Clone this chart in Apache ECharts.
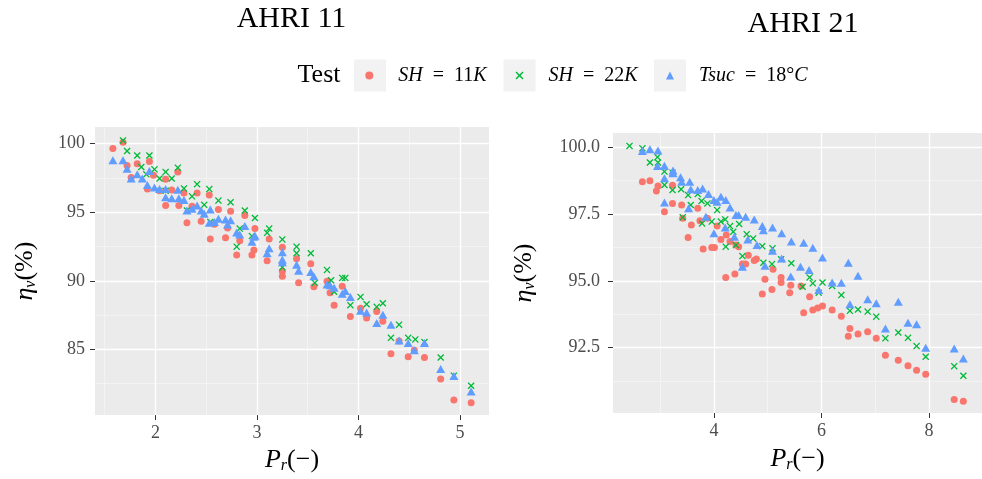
<!DOCTYPE html>
<html>
<head>
<meta charset="utf-8">
<script src="https://cdn.jsdelivr.net/npm/echarts@6/dist/echarts.min.js"></script>
<style>
html,body{margin:0;padding:0;background:#fff;}
#c{width:982px;height:479px;}
</style>
</head>
<body>
<div id="c"></div>
<script>
// ---------- data ----------
const panelTitles = ['AHRI 11', 'AHRI 21'];
const seriesNames = ['SH11', 'SH22', 'Tsuc18'];
const legendTitle = 'Test';

const ahri11Sh11 = [[1.58,99.66],[1.68,100.1],[1.72,98.42],[1.76,97.53],[1.82,98.54],[1.94,98.70],[1.92,96.69],[1.98,97.70],[2.04,96.57],[2.10,97.41],[2.10,95.49],[2.16,96.62],[2.22,97.94],[2.23,95.49],[2.28,96.40],[2.31,94.24],[2.36,95.44],[2.41,96.40],[2.45,94.34],[2.53,96.26],[2.54,93.04],[2.58,94.12],[2.62,95.20],[2.69,93.14],[2.71,93.86],[2.74,95.08],[2.80,91.89],[2.83,92.92],[2.88,94.77],[2.95,91.89],[2.97,92.25],[2.98,93.81],[3.10,91.46],[3.12,93.04],[3.25,92.44],[3.25,90.69],[3.25,90.33],[3.39,91.60],[3.41,89.85],[3.53,91.24],[3.56,89.56],[3.69,89.97],[3.72,89.13],[3.76,88.22],[3.84,89.61],[3.92,87.40],[4.02,88.00],[4.08,87.28],[4.18,87.76],[4.24,87.04],[4.32,84.67],[4.40,85.60],[4.49,84.45],[4.55,84.93],[4.65,84.40],[4.81,82.84],[4.94,81.31],[5.11,81.11]];
const ahri11Sh22 = [[1.68,100.24],[1.72,99.47],[1.82,99.14],[1.86,98.30],[1.94,99.14],[1.99,98.13],[1.91,97.77],[2.04,97.46],[2.10,97.94],[2.16,97.46],[2.22,98.25],[2.10,96.57],[2.28,96.74],[2.31,95.13],[2.36,96.16],[2.41,97.05],[2.48,95.54],[2.53,96.69],[2.54,94.29],[2.62,95.85],[2.74,95.73],[2.80,92.49],[2.83,93.81],[2.88,95.13],[2.95,93.26],[2.98,94.58],[3.10,93.50],[3.12,93.81],[3.25,93.02],[3.25,90.98],[3.39,92.49],[3.39,92.01],[3.53,92.01],[3.57,89.85],[3.69,90.79],[3.73,90.04],[3.76,89.20],[3.84,90.21],[3.87,90.21],[3.92,88.22],[4.02,88.82],[4.08,88.29],[4.18,88.10],[4.24,88.36],[4.32,85.84],[4.40,86.80],[4.49,85.84],[4.56,85.72],[4.65,85.53],[4.81,84.40],[4.94,83.08],[5.11,82.34]];
const ahri11Tsuc = [[1.58,98.80],[1.68,98.80],[1.72,98.18],[1.76,97.46],[1.82,97.77],[1.87,97.46],[1.92,96.98],[1.94,98.01],[1.99,96.81],[2.04,96.69],[2.10,96.69],[2.10,96.09],[2.16,96.02],[2.22,96.64],[2.23,96.02],[2.28,95.90],[2.31,95.13],[2.36,95.25],[2.41,95.49],[2.45,95.13],[2.48,94.89],[2.53,94.24],[2.54,95.20],[2.58,94.29],[2.62,94.53],[2.69,94.48],[2.71,94.10],[2.74,94.41],[2.80,93.52],[2.83,93.38],[2.88,94.00],[2.95,92.85],[2.97,93.21],[2.98,93.28],[3.10,92.01],[3.12,92.37],[3.25,92.08],[3.25,91.53],[3.25,91.36],[3.39,91.17],[3.41,90.74],[3.53,90.64],[3.56,90.33],[3.69,89.73],[3.72,89.68],[3.76,89.49],[3.84,89.06],[3.87,89.25],[3.92,88.82],[4.02,87.81],[4.08,87.69],[4.18,86.92],[4.24,87.52],[4.32,86.80],[4.40,85.65],[4.49,85.46],[4.55,84.93],[4.65,85.46],[4.81,83.56],[4.94,83.06],[5.11,81.93]];

const ahri21Sh11 = [[2.67,98.71],[2.81,98.75],[2.93,98.36],[2.96,98.55],[3.08,97.59],[3.23,97.90],[3.23,98.58],[3.40,97.84],[3.42,97.34],[3.52,96.62],[3.58,97.09],[3.70,97.72],[3.74,97.25],[3.80,96.19],[3.88,97.34],[3.96,96.25],[4.01,96.25],[4.06,97.05],[4.13,96.55],[4.22,95.13],[4.23,96.72],[4.30,96.47],[4.39,95.26],[4.41,96.34],[4.46,96.28],[4.53,95.63],[4.59,95.63],[4.64,95.96],[4.75,95.76],[4.79,95.82],[4.90,94.51],[4.95,95.06],[5.08,94.68],[5.10,95.44],[5.25,95.13],[5.25,94.94],[5.41,94.56],[5.43,94.84],[5.62,94.81],[5.67,93.81],[5.78,94.41],[5.84,93.91],[5.93,93.99],[6.02,94.06],[6.20,93.91],[6.37,93.68],[6.50,92.93],[6.53,93.22],[6.68,93.01],[6.86,93.10],[7.02,92.85],[7.19,92.22],[7.43,92.03],[7.61,91.82],[7.77,91.66],[7.94,91.51],[8.47,90.56],[8.64,90.50]];
const ahri21Sh22 = [[2.43,100.05],[2.67,99.96],[2.81,99.43],[2.95,99.63],[2.96,99.43],[3.08,99.09],[3.08,98.59],[3.23,99.05],[3.23,98.40],[3.39,98.43],[3.42,97.38],[3.52,98.21],[3.57,97.84],[3.70,98.25],[3.77,97.99],[3.78,97.15],[3.88,97.90],[3.96,97.22],[4.06,97.65],[4.13,97.22],[4.21,97.30],[4.22,96.28],[4.30,97.05],[4.36,96.84],[4.41,96.34],[4.47,97.13],[4.53,95.93],[4.61,96.75],[4.73,96.59],[4.90,96.30],[4.92,95.68],[5.08,95.63],[5.09,96.22],[5.25,95.81],[5.44,95.66],[5.65,94.78],[5.78,95.13],[5.84,94.91],[5.95,94.56],[6.02,94.94],[6.20,94.81],[6.37,94.47],[6.53,93.88],[6.68,93.93],[6.86,93.85],[7.02,93.66],[7.19,92.85],[7.43,93.07],[7.61,92.87],[7.77,92.56],[7.94,92.16],[8.47,91.81],[8.64,91.45]];
const ahri21Tsuc = [[2.67,99.86],[2.81,99.93],[2.96,99.88],[2.95,99.30],[3.08,99.31],[3.08,98.84],[3.24,99.13],[3.24,99.03],[3.08,97.93],[3.38,98.88],[3.40,98.71],[3.55,98.71],[3.57,98.43],[3.53,97.72],[3.70,98.40],[3.79,98.46],[3.85,97.40],[3.90,98.25],[4.00,98.03],[4.00,96.78],[4.06,97.96],[4.13,98.15],[4.22,98.03],[4.30,97.75],[4.21,97.00],[4.38,96.65],[4.41,97.47],[4.46,97.47],[4.53,95.53],[4.59,97.40],[4.63,96.55],[4.75,97.30],[4.80,96.34],[4.90,97.05],[4.92,96.90],[4.95,95.57],[5.09,97.00],[5.09,96.13],[5.26,96.78],[5.26,95.84],[5.43,95.16],[5.44,96.47],[5.61,95.53],[5.67,96.43],[5.77,95.41],[5.84,96.24],[5.95,94.66],[6.02,95.88],[6.20,94.94],[6.37,94.93],[6.50,95.68],[6.53,94.13],[6.68,95.19],[6.86,94.31],[7.02,94.16],[7.19,93.22],[7.43,94.22],[7.61,93.43],[7.77,93.38],[7.94,92.50],[8.47,92.47],[8.64,92.10]];

// tick values
const xTicksL = [2, 3, 4, 5];
const xMinorL = [1.5, 2.5, 3.5, 4.5];
const yTicksL = [85, 90, 95, 100];
const yMinorL = [82.5, 87.5, 92.5, 97.5];
const xTicksR = [4, 6, 8];
const xMinorR = [3, 5, 7];
const yTicksR = [92.5, 95, 97.5, 100];
const yMinorR = [91.25, 93.75, 96.25, 98.75];

// ---------- style ----------
const SERIF = "'Liberation Serif','DejaVu Serif',serif";
const COLORS = ['#F8766D', '#00BA38', '#619CFF'];
const CROSS = 'path://M0,1.3L1.3,0L5,3.7L8.7,0L10,1.3L6.3,5L10,8.7L8.7,10L5,6.3L1.3,10L0,8.7L3.7,5Z';
const SYMBOLS = ['circle', CROSS, 'triangle'];
const SIZES = [7, 7, [9, 8]];

const nameRich = {
  m: {fontFamily: SERIF, fontStyle: 'italic', fontSize: 26, lineHeight: 28, color: '#000'},
  s: {fontFamily: SERIF, fontStyle: 'italic', fontSize: 16, lineHeight: 9, verticalAlign: 'bottom', color: '#000'},
  n: {fontFamily: SERIF, fontSize: 26, lineHeight: 28, color: '#000'}
};
const xName = '{m|P}{s|r}{n|(\u2212)}';
const yName = '{m|\u03B7}{s|v}{n|(%)}';

function mkX(grid, min, max, ticks, fmt, gap) {
  return {
    type: 'value', gridIndex: grid, min: min, max: max,
    axisLine: {show: false},
    axisTick: {show: true, customValues: ticks, length: 5, lineStyle: {color: '#333', width: 1}},
    axisLabel: {customValues: ticks, color: '#4D4D4D', fontFamily: SERIF, fontSize: 18, margin: 9, formatter: fmt},
    splitLine: {show: false},
    name: xName, nameLocation: 'middle', nameGap: gap,
    nameTextStyle: {rich: nameRich}
  };
}
function mkY(grid, min, max, ticks, fmt, gap, margin) {
  return {
    type: 'value', gridIndex: grid, min: min, max: max,
    axisLine: {show: false},
    axisTick: {show: true, customValues: ticks, length: 5, lineStyle: {color: '#333', width: 1}},
    axisLabel: {customValues: ticks, color: '#4D4D4D', fontFamily: SERIF, fontSize: 18, margin: margin, formatter: fmt},
    splitLine: {show: false},
    name: yName, nameLocation: 'middle', nameGap: gap,
    nameTextStyle: {rich: nameRich}
  };
}

function gridLines(idx, xMaj, xMin, yMaj, yMin) {
  const maj = {color: '#ffffff', width: 1.3, type: 'solid'};
  const mnr = {color: '#F7F7F7', width: 0.7, type: 'solid'};
  const d = [];
  xMin.forEach(v => d.push({xAxis: v, lineStyle: mnr}));
  yMin.forEach(v => d.push({yAxis: v, lineStyle: mnr}));
  xMaj.forEach(v => d.push({xAxis: v, lineStyle: maj}));
  yMaj.forEach(v => d.push({yAxis: v, lineStyle: maj}));
  return {
    type: 'scatter', name: 'grid' + idx, xAxisIndex: idx, yAxisIndex: idx, data: [], silent: true, z: 1,
    markLine: {silent: true, symbol: ['none', 'none'], label: {show: false}, animation: false,
      emphasis: {disabled: true}, data: d}
  };
}

function pts(idx, k, data) {
  return {
    type: 'scatter', name: seriesNames[k], xAxisIndex: idx, yAxisIndex: idx, data: data,
    symbol: SYMBOLS[k], symbolSize: SIZES[k], z: 10,
    itemStyle: {color: COLORS[k], opacity: 1}, animation: false
  };
}

const legendLabels = [
  '{sp|}{i|SH}{n|\u2002=\u200211}{i|K}',
  '{sp|}{i|SH}{n|\u2002=\u200222}{i|K}',
  '{sp|}{i|Tsuc}{n|\u2002=\u200218\u00B0}{i|C}'
];
const legendRich = {
  sp: {width: 20},
  i: {fontFamily: SERIF, fontStyle: 'italic', fontSize: 20, lineHeight: 24, color: '#000'},
  n: {fontFamily: SERIF, fontSize: 20, lineHeight: 24, color: '#000'}
};
const legendX = [365.3, 515.5, 666];
const boxX = [354, 503.5, 654];

const option = {
  backgroundColor: '#ffffff',
  animation: false,
  grid: [
    {left: 95, top: 127, width: 394, height: 292, show: true, backgroundColor: '#EBEBEB', borderWidth: 0},
    {left: 613, top: 133, width: 380, height: 280, show: true, backgroundColor: '#EBEBEB', borderWidth: 0}
  ],
  xAxis: [
    mkX(0, 1.404, 5.286, xTicksL, v => String(v), 27),
    mkX(1, 2.123, 8.987, xTicksR, v => String(v), 32)
  ],
  yAxis: [
    mkY(0, 80.2, 101.22, yTicksL, v => String(v), 56, 10),
    mkY(1, 90.056, 100.535, yTicksR, v => v.toFixed(1), 75, 13)
  ],
  legend: seriesNames.map((n, k) => ({
    data: [n], left: legendX[k], top: 63.5, padding: 0,
    itemWidth: 8, itemHeight: 8, selectedMode: false,
    formatter: () => legendLabels[k],
    textStyle: {rich: legendRich, lineHeight: 24}
  })),
  graphic: [
    {type: 'text', x: 291.5, y: 19.5, style: {text: panelTitles[0], font: "30px 'Liberation Serif'", fill: '#000', textAlign: 'center', textVerticalAlign: 'middle'}},
    {type: 'text', x: 803, y: 24, style: {text: panelTitles[1], font: "30px 'Liberation Serif'", fill: '#000', textAlign: 'center', textVerticalAlign: 'middle'}},
    {type: 'text', x: 319, y: 75.5, style: {text: legendTitle, font: "26px 'Liberation Serif'", fill: '#000', textAlign: 'center', textVerticalAlign: 'middle'}}
  ].concat(boxX.map(x => ({type: 'rect', shape: {x: x, y: 59.5, width: 32, height: 32}, style: {fill: '#F2F2F2'}, z: -1}))),
  series: [
    gridLines(0, xTicksL, xMinorL, yTicksL, yMinorL),
    gridLines(1, xTicksR, xMinorR, yTicksR, yMinorR),
    pts(0, 0, ahri11Sh11), pts(0, 1, ahri11Sh22), pts(0, 2, ahri11Tsuc),
    pts(1, 0, ahri21Sh11), pts(1, 1, ahri21Sh22), pts(1, 2, ahri21Tsuc)
  ]
};

const chart = echarts.init(document.getElementById('c'), null, {renderer: 'canvas'});
chart.setOption(option);
</script>
</body>
</html>
